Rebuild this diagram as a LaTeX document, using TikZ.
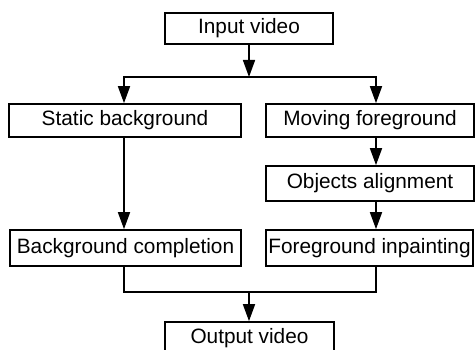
\documentclass[tikz,border=0pt]{standalone}
\usepackage{fontspec}
\setmainfont{Liberation Sans}
\usetikzlibrary{arrows.meta,calc}
\begin{document}
\begin{tikzpicture}[x=1pt,y=1pt,
  box/.style={draw,line width=1.7pt,inner sep=0pt,font=\fontsize{20.8}{24}\selectfont},
  link/.style={line width=1.7pt},
  arr/.style={link,-{Triangle[length=17pt,width=12pt]}}]
\useasboundingbox (0,0) rectangle (475,-350);
% boxes
\node[box,minimum width=168pt,minimum height=31pt] (in)  at (249,-28.5)  {Input video};
\node[box,minimum width=232pt,minimum height=33pt] (sb)  at (125,-120.5) {Static background};
\node[box,minimum width=208pt,minimum height=33pt] (mf)  at (370,-120.5) {Moving foreground};
\node[box,minimum width=208pt,minimum height=35pt] (oa)  at (370,-183.5) {Objects alignment};
\node[box,minimum width=231pt,minimum height=36pt] (bc)  at (125.5,-248) {Background completion};
\node[box,minimum width=207pt,minimum height=36pt] (fi)  at (369.5,-248) {Foreground inpainting};
\node[box,minimum width=169pt,minimum height=33pt] (out) at (249.5,-338.5) {Output video};
% junctions
\coordinate (split) at (249,-77);
\coordinate (merge) at (249,-292);
% split into the two branches
\draw[arr] (in.south) -- (split);
\draw[arr] (split) -| ([xshift=-1pt]sb.north);
\draw[arr] (split) -| ([xshift=6pt]mf.north);
% left branch
\draw[arr] ([xshift=-1pt]sb.south) -- ([xshift=-1.5pt]bc.north);
% right branch
\draw[arr] ([xshift=6pt]mf.south) -- ([xshift=6pt]oa.north);
\draw[arr] ([xshift=6pt]oa.south) -- ([xshift=6.5pt]fi.north);
% merge of the branches
\draw[link] ([xshift=-1.5pt]bc.south) |- (merge) -| ([xshift=6.5pt]fi.south);
\draw[arr] (merge) -- ([xshift=-0.5pt]out.north);
\end{tikzpicture}
\end{document}
